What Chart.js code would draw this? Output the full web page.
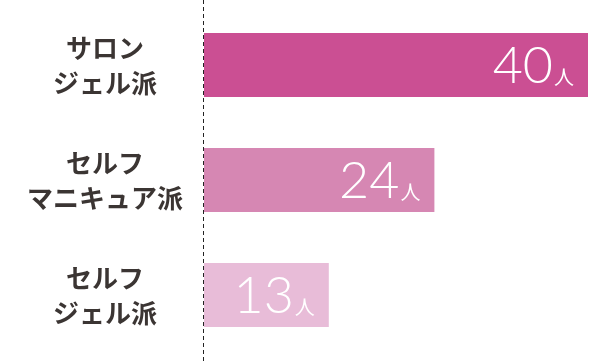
<!DOCTYPE html>
<html><head><meta charset="utf-8">
<script src="https://cdn.jsdelivr.net/npm/chart.js@4"></script>
<style>html,body{margin:0;padding:0;background:#fff}#w{width:599px;height:361px}</style>
</head><body><div id="w"><canvas id="c"></canvas></div>
<script>
const categories = [['サロン','ジェル派'], ['セルフ','マニキュア派'], ['セルフ','ジェル派']];
const values = [40, 24, 13];
const unit = '人';
const colors = ['#CB4F93', '#D687B3', '#E8BCD8'];

const labelPlugin = {
  id: 'labels',
  afterDatasetsDraw(chart) {
    const ctx = chart.ctx;
    const xs = chart.scales.x, ys = chart.scales.y;
    const x0 = xs.getPixelForValue(0);
    ctx.save();
    ctx.strokeStyle = '#222';
    ctx.lineWidth = 1;
    ctx.setLineDash([4, 3]);
    ctx.beginPath();
    ctx.moveTo(Math.round(x0) - 0.5, 0);
    ctx.lineTo(Math.round(x0) - 0.5, chart.height);
    ctx.stroke();
    ctx.setLineDash([]);
    categories.forEach((lines, i) => {
      const yc = ys.getPixelForValue(i);
      ctx.fillStyle = '#3b3533';
      ctx.font = 'bold 26px "Noto Sans CJK JP"';
      ctx.textAlign = 'center';
      ctx.textBaseline = 'middle';
      const lh = 35;
      lines.forEach((t, k) => {
        ctx.fillText(t, 105, yc + 1 + (k - (lines.length - 1) / 2) * lh);
      });
      const xe = xs.getPixelForValue(values[i]);
      ctx.fillStyle = '#ffffff';
      ctx.textBaseline = 'alphabetic';
      ctx.textAlign = 'right';
      ctx.font = '20px "Noto Sans CJK JP"';
      const ux = xe - 14;
      const base = yc + 18;
      ctx.fillText(unit, ux, base + 2);
      const uw = ctx.measureText(unit).width;
      ctx.font = '300 52px Lato';
      ctx.fillText(String(values[i]), ux - uw - 1, base);
    });
    ctx.restore();
  }
};

new Chart(document.getElementById('c'), {
  type: 'bar',
  data: {
    labels: categories.map(l => l.join('')),
    datasets: [{ data: values, backgroundColor: colors, borderWidth: 0,
      barPercentage: 0.555, categoryPercentage: 1 }]
  },
  options: {
    indexAxis: 'y',
    responsive: true, maintainAspectRatio: false, animation: false,
    layout: { padding: { left: 204, right: 11, top: 7.5, bottom: 8.5 } },
    plugins: { legend: { display: false }, tooltip: { enabled: false } },
    scales: {
      x: { display: false, min: 0, max: 40 },
      y: { display: false }
    }
  },
  plugins: [labelPlugin]
});
</script></body></html>
